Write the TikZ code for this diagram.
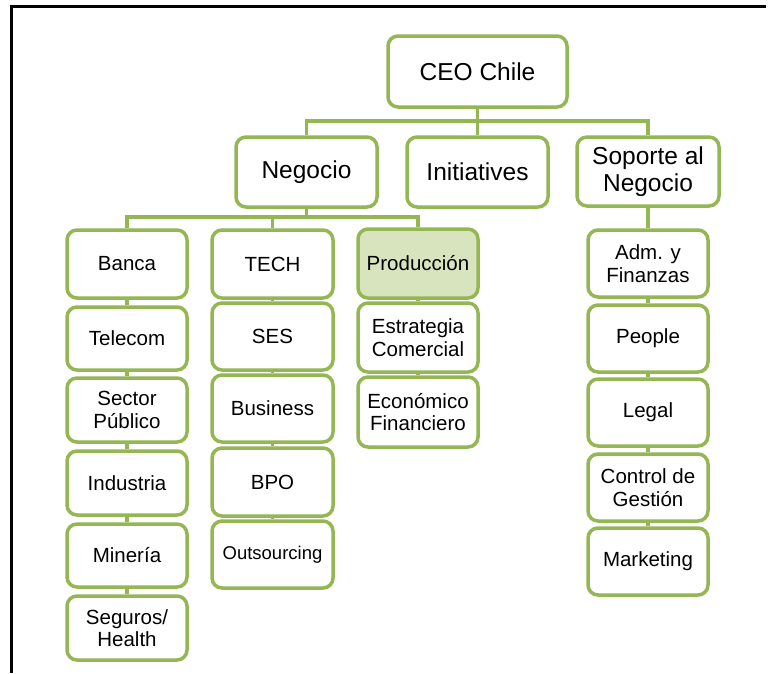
\documentclass[tikz,border=0pt]{standalone}
\usepackage{fontspec}
\setmainfont{Liberation Sans}
\definecolor{olive}{HTML}{94B653}
\definecolor{lightolive}{HTML}{D7E4BD}
\tikzset{
  box/.style={draw=olive, line width=3.5pt, rounded corners=10pt, fill=white, align=center, inner sep=0pt, text=black},
  bigbox/.style={box, font=\fontsize{24.5}{27}\selectfont},
  smallbox/.style={box, minimum width=120pt, font=\fontsize{20.5}{22.5}\selectfont},
  link/.style={draw=olive, line width=3.5pt},
  frameline/.style={draw=black, line width=3pt}
}
\begin{document}
\begin{tikzpicture}[x=1pt,y=-1pt]
\useasboundingbox (0,0) rectangle (768,673);
\draw[frameline] (766,6) -- (11.5,6) -- (11.5,673);

% top levels
\node[bigbox, minimum width=179pt, minimum height=71pt] (ceo) at (477.5,71.5) {CEO Chile};
\node[bigbox, minimum width=141pt, minimum height=70pt] (neg) at (306.5,172) {Negocio};
\node[bigbox, minimum width=141pt, minimum height=70pt] (ini) at (477.5,172) {Initiatives};
\node[bigbox, minimum width=142pt, minimum height=69pt] (sop) at (648,171.5) {Soporte al\\Negocio};

% left column
\node[smallbox, minimum height=68pt] (banca) at (127,264) {Banca};
\node[smallbox, minimum height=63pt] (telecom) at (127,338.5) {Telecom};
\node[smallbox, minimum height=64pt] (sector) at (127,410) {Sector\\Público};
\node[smallbox, minimum height=64pt] (industria) at (127,483) {Industria};
\node[smallbox, minimum height=63pt] (mineria) at (127,555.5) {Minería};
\node[smallbox, minimum height=64pt] (seguros) at (127,628) {Seguros/\\Health};

% tech column
\node[smallbox, minimum width=121pt, minimum height=68pt] (tech) at (272.5,264) {TECH};
\node[smallbox, minimum width=121pt, minimum height=67pt] (ses) at (272.5,336.5) {SES};
\node[smallbox, minimum width=121pt, minimum height=67pt] (business) at (272.5,408.5) {Business};
\node[smallbox, minimum width=121pt, minimum height=68pt] (bpo) at (272.5,482) {BPO};
\node[smallbox, minimum width=121pt, minimum height=67pt, font=\fontsize{18.5}{21}\selectfont] (outs) at (272.5,554.5) {Outsourcing};

% produccion column
\node[smallbox, minimum height=69pt, fill=lightolive] (prod) at (418,263.5) {Producción};
\node[smallbox, minimum height=69pt] (estr) at (418,337.5) {Estrategia\\Comercial};
\node[smallbox, minimum height=70pt] (econ) at (418,412) {Económico\\Financiero};

% soporte column
\node[smallbox, minimum height=67pt] (adm) at (648,263.5) {Adm. y\\Finanzas};
\node[smallbox, minimum height=67pt] (people) at (648,338.5) {People};
\node[smallbox, minimum height=67pt] (legal) at (648,412.5) {Legal};
\node[smallbox, minimum height=67pt] (control) at (648,487.5) {Control de\\Gestión};
\node[smallbox, minimum height=67pt] (marketing) at (648,561.5) {Marketing};

% buses
\coordinate (bus1) at (477.5,121);
\coordinate (bus2) at (306.5,217);

\draw[link] (ceo.south) -- (bus1);
\draw[link] (neg.north) |- (bus1) -| (sop.north);
\draw[link] (ini.north) -- (ini.north |- bus1);

\draw[link] (neg.south) -- (bus2);
\draw[link] (banca.north) |- (bus2) -| (prod.north);
\draw[link] (tech.north) -- (tech.north |- bus2);

\draw[link] (sop.south) -- (adm.north);

\foreach \a/\b in {banca/telecom, telecom/sector, sector/industria, industria/mineria, mineria/seguros,
  tech/ses, ses/business, business/bpo, bpo/outs,
  prod/estr, estr/econ,
  adm/people, people/legal, legal/control, control/marketing}
  \draw[link] (\a.south) -- (\b.north);
\end{tikzpicture}
\end{document}
